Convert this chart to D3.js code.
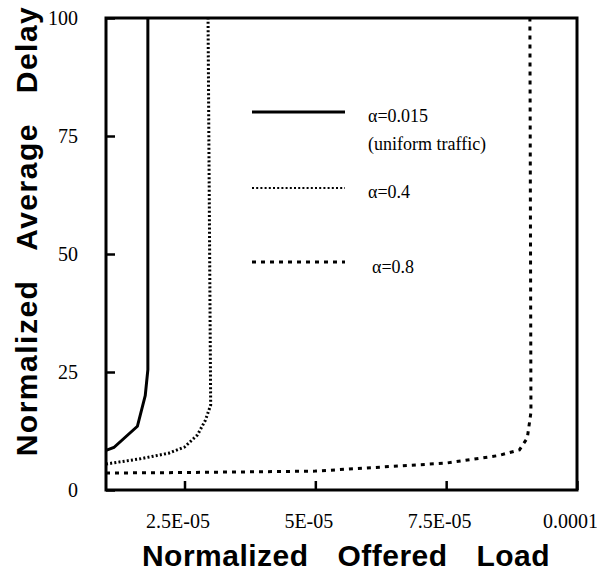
<!DOCTYPE html>
<html>
<head>
<meta charset="utf-8">
<script src="https://cdn.jsdelivr.net/npm/d3@7/dist/d3.min.js"></script>
<style>
    body { margin: 0; background: #fff; }
    .title { font-family: "Liberation Sans", Arial, sans-serif; font-weight: bold; fill: #000; }
    .legend text { font-family: "Liberation Serif", "Times New Roman", serif; font-size: 18px; fill: #000; }
    .curve { fill: none; stroke: #000; }
</style>
</head>
<body>
<div id="container-result"></div>
<script>
const [svgW, svgH] = [597, 578];
const PLOT = {left: 106, right: 577, top: 18, bottom: 490};

// x = normalized offered load, y = normalized average delay
const xTicks = [2.5e-5, 5e-5, 7.5e-5, 1e-4];
const xTickLabels = ['2.5E-05', '5E-05', '7.5E-05', '0.0001'];
const yTicks = [0, 25, 50, 75, 100];

const load015 = [1.0e-5, 1.15e-5, 1.6e-5, 1.75e-5, 1.8e-5, 1.8e-5];
const delay015 = [8.4, 9.0, 13.5, 20, 25.5, 100];

const load04 = [1.0e-5, 1.65e-5, 2.2e-5, 2.5e-5, 2.75e-5, 2.9e-5, 3.0e-5, 2.95e-5];
const delay04 = [5.5, 6.6, 7.8, 9.1, 11.7, 14.8, 18, 100];

const load08 = [1.0e-5, 2.5e-5, 5e-5, 7.5e-5, 8.5e-5, 8.9e-5, 9.05e-5, 9.12e-5, 9.1e-5];
const delay08 = [3.6, 3.7, 4.0, 5.7, 7.3, 8.5, 11, 16.5, 100];

const seriesNames = ['\u03b1=0.015', '\u03b1=0.4', '\u03b1=0.8'];
const seriesNotes = ['(uniform traffic)', '', ''];

const x = d3.scaleLinear().domain([1e-5, 1e-4]).range([PLOT.left, PLOT.right]);
const y = d3.scaleLinear().domain([0, 100]).range([PLOT.bottom, PLOT.top]);

const styles = [
    {width: 3, dash: null},
    {width: 3, dash: '2,2.2'},
    {width: 3, dash: '4,5'}
];

function zipSeries(xs, ys) {
    return xs.map(function (v, i) {
        return [v, ys[i]];
    });
}

function styleAxis(g) {
    g.select('.domain').remove();
    g.selectAll('.tick line').attr('stroke', '#000').attr('stroke-width', 2.5);
    g.selectAll('.tick text')
        .attr('fill', '#000')
        .style('font-family', '"Liberation Serif", "Times New Roman", serif')
        .style('font-size', '20px');
}

function renderAxes(svg) {
    let xAxis = d3.axisBottom(x).tickValues(xTicks)
        .tickFormat(function (d, i) { return xTickLabels[i]; })
        .tickSizeInner(-9).tickSizeOuter(0).tickPadding(24);
    let gx = svg.append('g').attr('transform', 'translate(0,' + PLOT.bottom + ')').call(xAxis);
    styleAxis(gx);
    gx.selectAll('text').attr('dx', -7);

    let yAxis = d3.axisLeft(y).tickValues(yTicks)
        .tickSizeInner(-9).tickSizeOuter(0).tickPadding(28);
    let gy = svg.append('g').attr('transform', 'translate(' + PLOT.left + ',0)').call(yAxis);
    styleAxis(gy);

    // frame
    svg.append('rect')
        .attr('x', PLOT.left).attr('y', PLOT.top)
        .attr('width', PLOT.right - PLOT.left).attr('height', PLOT.bottom - PLOT.top)
        .attr('fill', 'none').attr('stroke', '#000').attr('stroke-width', 3);

    svg.append('text').attr('class', 'title')
        .attr('x', 346).attr('y', 566)
        .attr('text-anchor', 'middle')
        .style('font-size', '30px').style('letter-spacing', '0.5px').style('word-spacing', '20px')
        .text('Normalized Offered Load');

    svg.append('text').attr('class', 'title')
        .attr('transform', 'translate(37,231) rotate(-90)')
        .attr('text-anchor', 'middle')
        .style('font-size', '30px').style('letter-spacing', '1.5px').style('word-spacing', '20px')
        .text('Normalized Average Delay');
}

function renderCurves(svg) {
    let line = d3.line()
        .x(function (d) { return x(d[0]); })
        .y(function (d) { return y(d[1]); });

    let data = [zipSeries(load015, delay015), zipSeries(load04, delay04), zipSeries(load08, delay08)];

    svg.append('g').selectAll('path').data(data).enter().append('path')
        .attr('class', 'curve')
        .attr('d', line)
        .attr('stroke-width', function (d, i) { return styles[i].width; })
        .attr('stroke-dasharray', function (d, i) { return styles[i].dash; });
}

function renderLegend(svg) {
    let rows = [112, 188, 262];
    let g = svg.append('g').attr('class', 'legend');

    seriesNames.forEach(function (name, i) {
        g.append('line')
            .attr('x1', 252).attr('x2', 345)
            .attr('y1', rows[i]).attr('y2', rows[i])
            .attr('stroke', '#000')
            .attr('stroke-width', i === 1 ? 2 : styles[i].width)
            .attr('stroke-dasharray', styles[i].dash);
        g.append('text')
            .attr('x', i === 2 ? 372 : 368).attr('y', rows[i] + (i === 2 ? 11 : 10))
            .text(name);
        if (seriesNotes[i]) {
            g.append('text').attr('x', 368).attr('y', rows[i] + 38).text(seriesNotes[i]);
        }
    });
}

function main() {
    let svg = d3.select('#container-result').append('svg')
        .attr('width', svgW).attr('height', svgH);

    renderAxes(svg);
    renderCurves(svg);
    renderLegend(svg);
}

main();
</script>
</body>
</html>
